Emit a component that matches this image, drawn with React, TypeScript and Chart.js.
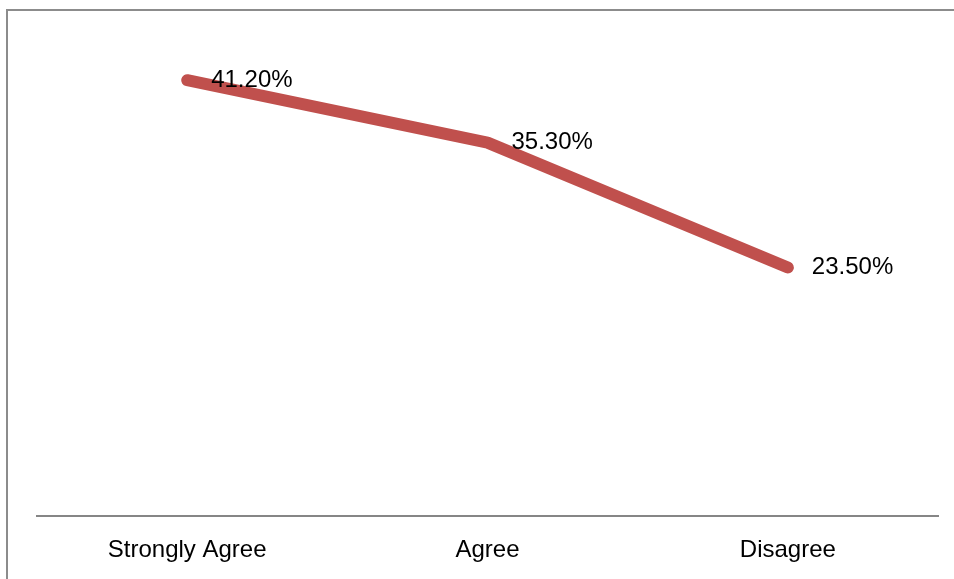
import React, { useEffect, useRef } from "react";
import { Chart, registerables } from "chart.js";

Chart.register(...registerables);

// Response categories and share of respondents (percent)
const categories = ["Strongly Agree", "Agree", "Disagree"];
const shares = [41.2, 35.3, 23.5];
const yMin = 0;
const yMax = 45;

const FONT = "'Liberation Sans', Arial, sans-serif";

// Grey frame around the whole chart (open to the right and bottom)
const framePlugin = {
  id: "frame",
  beforeDraw(chart: Chart) {
    const { ctx, width, height } = chart;
    ctx.save();
    ctx.fillStyle = "#ffffff";
    ctx.fillRect(0, 0, width, height);
    ctx.strokeStyle = "#8c8c8c";
    ctx.lineWidth = 2;
    ctx.beginPath();
    ctx.moveTo(7, height + 2);
    ctx.lineTo(7, 10);
    ctx.lineTo(width + 2, 10);
    ctx.stroke();
    ctx.restore();
  },
};

// Percentage labels to the right of each point
const valueLabelPlugin = {
  id: "valueLabels",
  afterDatasetsDraw(chart: Chart) {
    const { ctx } = chart;
    const meta = chart.getDatasetMeta(0);
    const data = chart.data.datasets[0].data as number[];
    ctx.save();
    ctx.font = `24px ${FONT}`;
    ctx.fillStyle = "#000000";
    ctx.textAlign = "left";
    ctx.textBaseline = "middle";
    meta.data.forEach((pt: any, i: number) => {
      ctx.fillText(`${data[i].toFixed(2)}%`, pt.x + 24, pt.y);
    });
    ctx.restore();
  },
};

export default function App() {
  const canvasRef = useRef<HTMLCanvasElement | null>(null);

  useEffect(() => {
    const canvas = canvasRef.current;
    if (!canvas) return;
    const chart = new Chart(canvas, {
      type: "line",
      data: {
        labels: categories,
        datasets: [
          {
            data: shares,
            borderColor: "#C0504D",
            backgroundColor: "#C0504D",
            borderWidth: 12,
            borderCapStyle: "round",
            borderJoinStyle: "round",
            pointRadius: 0,
            tension: 0,
            fill: false,
          },
        ],
      },
      options: {
        responsive: false,
        animation: false,
        events: [],
        layout: { padding: { top: 40, left: 37, right: 16, bottom: 0 } },
        plugins: {
          legend: { display: false },
          title: { display: false },
          tooltip: { enabled: false },
        },
        scales: {
          x: {
            offset: true,
            grid: { display: false, drawTicks: false },
            border: { display: true, color: "#868686", width: 2 },
            ticks: {
              color: "#000000",
              font: { family: FONT, size: 24 },
              padding: 20,
              maxRotation: 0,
            },
            afterFit(scale: any) {
              scale.height = 63;
            },
          },
          y: {
            display: false,
            min: yMin,
            max: yMax,
          },
        },
      },
      plugins: [framePlugin, valueLabelPlugin],
    });
    return () => chart.destroy();
  }, []);

  return (
    <div style={{ position: "fixed", left: 0, top: 0, width: 954, height: 579 }}>
      <canvas ref={canvasRef} width={954} height={579} style={{ display: "block" }} />
    </div>
  );
}
